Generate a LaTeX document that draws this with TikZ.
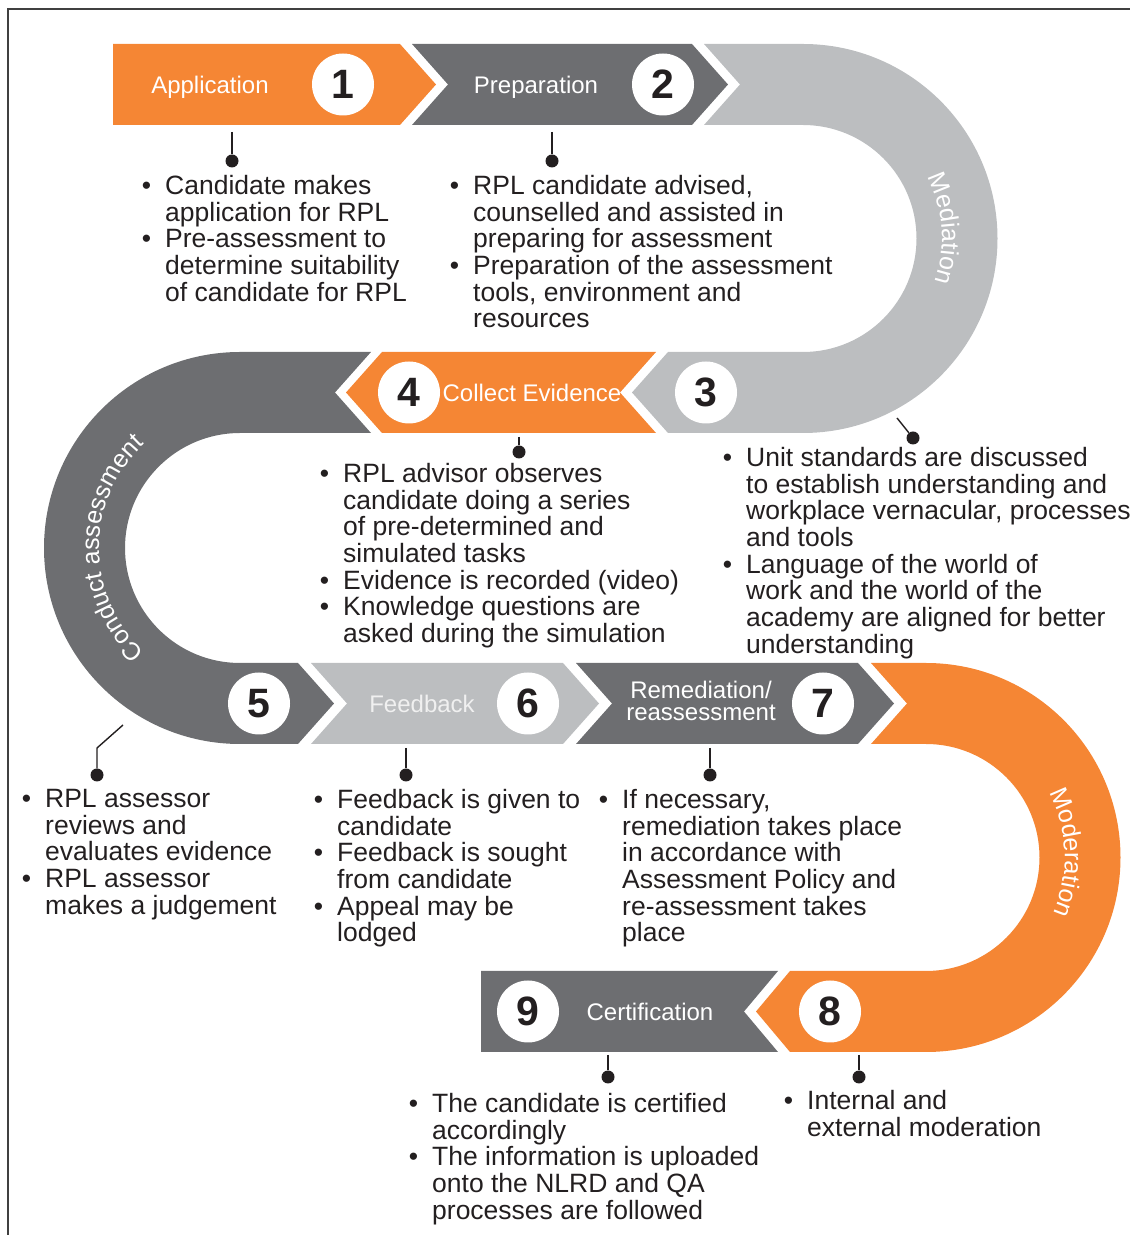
\documentclass[tikz,border=0pt]{standalone}
\usepackage{fontspec}
\setmainfont{Liberation Sans}
\usetikzlibrary{decorations.text}

\definecolor{rplorange}{HTML}{F58634}
\definecolor{rpldark}{HTML}{6D6E71}
\definecolor{rpllight}{HTML}{BCBEC0}
\definecolor{rplink}{HTML}{231F20}

\newcommand{\itm}{\llap{•\hspace{14pt}}}

\begin{document}
\begin{tikzpicture}[x=1pt, y=1pt,
    stepnum/.style={circle, fill=white, minimum size=62pt, inner sep=0pt, text=rplink, font=\fontsize{41}{41}\selectfont\bfseries},
    steplabel/.style={text=white, align=center, inner sep=0pt, text height=17.2pt, text depth=0pt, font=\fontsize{24}{22}\selectfont},
    bullets/.style={anchor=north west, align=left, inner sep=0pt, text=rplink, font=\fontsize{26.5}{26.7}\selectfont},
    pindot/.style={circle, fill=rplink, minimum size=13pt, inner sep=0pt},
    pinline/.style={draw=rplink, line width=1.4pt},
    arclabel/.style={decorate, decoration={text along path, text={|\fontsize{25}{25}\selectfont|#1}, text align=center, text color=white}}
]
    \useasboundingbox (0,0) rectangle (1130,1235);

    % frame
    \coordinate (f1) at (8,0);
    \coordinate (f2) at (8,1226);
    \coordinate (f3) at (1130,1226);
    \draw[black!75, line width=1.2pt] (f1) -- (f2) -- (f3);

    % row 1
    \fill[rplorange] (113,1191) -- (400,1191) -- (436,1150.5) -- (400,1110) -- (113,1110) -- cycle; % application
    \fill[rpldark] (412,1191) -- (692,1191) -- (728,1150.5) -- (692,1110) -- (412,1110) -- (448,1150.5) -- cycle; % preparation
    \fill[rpllight] (704,1191) -- (803,1191) arc[start angle=90, end angle=-90, radius=194.5]
        -- (668,802) -- (632,842.5) -- (668,883) -- (803,883) arc[start angle=-90, end angle=90, radius=113.5]
        -- (704,1110) -- (740,1150.5) -- cycle; % mediation

    % row 2
    \fill[rplorange] (656,883) -- (382,883) -- (346,842.5) -- (382,802) -- (656,802) -- (620,842.5) -- cycle; % collect evidence
    \fill[rpldark] (371,883) -- (240,883) arc[start angle=90, end angle=270, radius=196]
        -- (298,491) -- (334,531.5) -- (298,572) -- (240,572) arc[start angle=270, end angle=90, radius=115]
        -- (371,802) -- (335,842.5) -- cycle; % conduct assessment

    % row 3
    \fill[rpllight] (311,572) -- (563,572) -- (599,531.5) -- (563,491) -- (311,491) -- (347,531.5) -- cycle; % feedback
    \fill[rpldark] (576,572) -- (858,572) -- (894,531.5) -- (858,491) -- (576,491) -- (612,531.5) -- cycle; % remediation
    \fill[rplorange] (871,572) -- (926,572) arc[start angle=90, end angle=-90, radius=194.5]
        -- (790,183) -- (756,223.5) -- (790,264) -- (926,264) arc[start angle=-90, end angle=90, radius=113.5]
        -- (871,491) -- (907,531.5) -- cycle; % moderation

    % row 4
    \fill[rpldark] (481,264) -- (778,264) -- (744,223.5) -- (778,183) -- (481,183) -- cycle; % certification

    % labels on the arcs
    \path[arclabel=Mediation] (803,996.5) ++(40:139) arc[start angle=40, end angle=-32, radius=139];
    \path[arclabel=Conduct assessment] (240,687) ++(240:141) arc[start angle=240, end angle=120, radius=141];
    \path[arclabel=Moderation] (926,377.5) ++(38:139) arc[start angle=38, end angle=-34, radius=139];

    % stage names
    \node[steplabel] (l1) at (210,1150.5) {Application};
    \node[steplabel] (l2) at (536,1150.5) {Preparation};
    \node[steplabel] (l4) at (532,842.5) {Collect Evidence};
    \node[steplabel, text=white!94!black] (l6) at (422,531.5) {Feedback};
    \node[text=white, align=center, inner sep=0pt, font=\fontsize{24}{22}\selectfont] (l7) at (701,534.5) {Remediation/\\reassessment};
    \node[steplabel] (l9) at (650,223.5) {Certification};

    % numbers
    \node[stepnum] (n1) at (343,1150.5) {1};
    \node[stepnum] (n2) at (663,1150.5) {2};
    \node[stepnum] (n3) at (706,842.5) {3};
    \node[stepnum] (n4) at (409,842.5) {4};
    \node[stepnum] (n5) at (259,531.5) {5};
    \node[stepnum] (n6) at (528,531.5) {6};
    \node[stepnum] (n7) at (823,531.5) {7};
    \node[stepnum] (n8) at (830,223.5) {8};
    \node[stepnum] (n9) at (528,223.5) {9};

    % pins
    \coordinate (p1a) at (232,1103);
    \node[pindot] (p1) at (232,1074) {};
    \draw[pinline] (p1a) -- (p1);
    \coordinate (p2a) at (552,1103);
    \node[pindot] (p2) at (552,1074) {};
    \draw[pinline] (p2a) -- (p2);
    \coordinate (p3a) at (897,817);
    \node[pindot] (p3) at (913,797) {};
    \draw[pinline] (p3a) -- (p3);
    \coordinate (p4a) at (519,798);
    \node[pindot] (p4) at (519,783) {};
    \draw[pinline] (p4a) -- (p4);
    \coordinate (p5a) at (123,510);
    \coordinate (p5b) at (97,487);
    \node[pindot] (p5) at (97,460) {};
    \draw[pinline] (p5a) -- (p5b) -- (p5);
    \coordinate (p6a) at (406,487);
    \node[pindot] (p6) at (406,460) {};
    \draw[pinline] (p6a) -- (p6);
    \coordinate (p7a) at (710,487);
    \node[pindot] (p7) at (710,460) {};
    \draw[pinline] (p7a) -- (p7);
    \coordinate (p8a) at (859,180);
    \node[pindot] (p8) at (859,158) {};
    \draw[pinline] (p8a) -- (p8);
    \coordinate (p9a) at (608,180);
    \node[pindot] (p9) at (608,158) {};
    \draw[pinline] (p9a) -- (p9);

    % bullet texts
    \node[bullets] (t1) at (165,1060) {\itm Candidate makes\\application for RPL\\\itm Pre-assessment to\\determine suitability\\of candidate for RPL};
    \node[bullets] (t2) at (473,1060) {\itm RPL candidate advised,\\counselled and assisted in\\preparing for assessment\\\itm Preparation of the assessment\\tools, environment and\\resources};
    \node[bullets] (t3) at (746,788) {\itm Unit standards are discussed\\to establish understanding and\\workplace vernacular, processes\\and tools\\\itm Language of the world of\\work and the world of the\\academy are aligned for better\\understanding};
    \node[bullets] (t4) at (343,772) {\itm RPL advisor observes\\candidate doing a series\\of pre-determined and\\simulated tasks\\\itm Evidence is recorded (video)\\\itm Knowledge questions are\\asked during the simulation};
    \node[bullets] (t5) at (45,446) {\itm RPL assessor\\reviews and\\evaluates evidence\\\itm RPL assessor\\makes a judgement};
    \node[bullets] (t6) at (337,446) {\itm Feedback is given to\\candidate\\\itm Feedback is sought\\from candidate\\\itm Appeal may be\\lodged};
    \node[bullets] (t7) at (622,446) {\itm If necessary,\\remediation takes place\\in accordance with\\Assessment Policy and\\re-assessment takes\\place};
    \node[bullets] (t9) at (432,142) {\itm The candidate is certified\\accordingly\\\itm The information is uploaded\\onto the NLRD and QA\\processes are followed};
    \node[bullets] (t8) at (807,145) {\itm Internal and\\external moderation};

\end{tikzpicture}
\end{document}
